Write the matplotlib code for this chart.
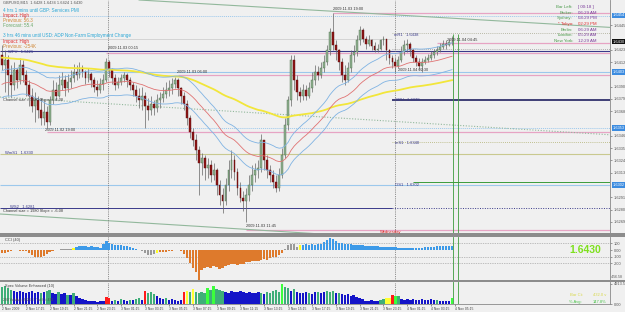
import numpy as np
import pandas as pd
import matplotlib
matplotlib.use("Agg")
import matplotlib.pyplot as plt
from matplotlib.patches import Rectangle

plt.rcParams["font.family"] = ["Liberation Sans", "DejaVu Sans"]

W, H = 625, 312

# ==========================
# Price data (GBPUSD M15, pips above 1.6200)
# ==========================
BASE = 1.6200
first_open_pips = 218

close_pips = [
    209, 214, 200, 191, 205, 196, 209, 200, 191, 182,
    173, 178, 169, 162, 167, 158, 178, 187, 182, 191,
    196, 189, 194, 198, 203, 200, 207, 203, 198, 201,
    196, 190, 187, 192, 196, 212, 205, 198, 191, 194,
    198, 200, 196, 191, 187, 182, 178, 182, 173, 169,
    174, 171, 178, 180, 183, 187, 189, 192, 196, 189,
    182, 174, 162, 149, 142, 133, 122, 126, 117, 120,
    111, 115, 102, 93, 88, 102, 115, 124, 114, 99,
    90, 88, 93, 102, 111, 115, 117, 142, 124, 115,
    111, 105, 99, 111, 129, 156, 178, 214, 196, 185,
    182, 187, 182, 189, 196, 203, 200, 207, 212, 223,
    239, 227, 223, 212, 200, 196, 207, 218, 221, 232,
    241, 233, 228, 232, 226, 223, 224, 232, 233, 223,
    216, 212, 208, 214, 221, 227, 228, 223, 216, 212,
    208, 212, 214, 216, 218, 221, 223, 225, 228, 227,
    230, 230,
]

high_pips = [
    227, 223, 218, 209, 212, 207, 216, 214, 205, 196,
    189, 185, 182, 180, 178, 173, 182, 196, 194, 200,
    203, 200, 201, 205, 210, 209, 212, 209, 205, 207,
    203, 199, 196, 198, 201, 216, 214, 207, 201, 199,
    201, 203, 202, 199, 194, 191, 189, 190, 185, 180,
    182, 178, 183, 185, 190, 194, 196, 198, 199, 198,
    190, 185, 178, 165, 153, 148, 137, 131, 129, 126,
    124, 122, 117, 106, 99, 108, 124, 133, 129, 117,
    105, 97, 99, 111, 120, 122, 124, 148, 142, 129,
    120, 115, 111, 117, 135, 162, 182, 218, 218, 200,
    190, 192, 191, 194, 203, 209, 208, 212, 218, 227,
    242, 256, 232, 224, 216, 209, 212, 223, 227, 236,
    244, 242, 235, 236, 233, 230, 228, 233, 235, 232,
    224, 218, 216, 217, 226, 232, 233, 230, 224, 218,
    216, 216, 217, 219, 222, 224, 226, 229, 232, 232,
    233, 235,
]

low_pips = [
    205, 185, 182, 181, 187, 189, 192, 194, 182, 173,
    167, 158, 162, 156, 156, 153, 156, 174, 178, 181,
    187, 182, 185, 189, 194, 196, 198, 199, 192, 194,
    190, 185, 182, 184, 187, 194, 199, 192, 187, 189,
    191, 194, 190, 187, 182, 176, 171, 169, 153, 160,
    165, 165, 167, 171, 176, 180, 182, 183, 189, 182,
    174, 169, 156, 144, 137, 124, 93, 111, 106, 108,
    105, 106, 93, 84, 77, 84, 97, 108, 106, 93,
    87, 79, 69, 88, 97, 105, 108, 114, 115, 108,
    105, 99, 96, 97, 108, 126, 151, 173, 187, 178,
    176, 178, 178, 180, 185, 191, 196, 198, 203, 209,
    218, 223, 214, 205, 194, 191, 194, 203, 212, 217,
    227, 230, 224, 226, 223, 221, 221, 223, 227, 214,
    210, 207, 203, 207, 212, 218, 221, 217, 212, 208,
    205, 203, 210, 212, 214, 216, 218, 221, 224, 224,
    226, 227,
]

# ==========================
# CCI (40) histogram values
# ==========================
cci_values = [
    -40, -50, -30,
    -10, -5, -5, -15, -15, -20,
    -50, -80, -100, -110, -105, -90, -60,
    -30, -15, -5, 0,
    10, 15, 20, 10, 25, 40,
    60, 55, 65, 50, 55, 45, 40,
    30, 90, 135,
    110, 90, 80, 75, 70, 60, 55, 45, 35, 20,
    5, -10, -45,
    -70, -75, -55, -40,
    -30, -35, -25, -20, -10,
    -3, -5, -10,
    -60, -120, -200, -280, -340, -456,
    -300, -280, -260, -270, -250, -265, -290, -280, -250, -230, -210, -220,
    -230, -220, -210, -190, -180, -170, -160, -165, -150, -140, -150,
    -120, -110, -100, -80, -40,
    20, 80, 90, 85, 40,
    70, 80, 90, 75, 85, 80, 90,
    95, 120, 150,
    185, 160,
    130, 110, 100, 95, 90, 85,
    80, 75, 70, 70, 65, 60, 60, 55, 55, 50, 50, 50, 45,
    40, 40, 35, 35, 30, 30, 35, 30, 30, 35,
    35, 40, 40, 45, 50, 55, 55,
    60, 60, 65, 60,
]
cci_dot_runs = [("g", 9), ("r", 7), ("g", 17), ("r", 14), ("g", 14),
                ("r", 35), ("g", 10), ("r", 12), ("g", 13), ("g", 21)]

# ==========================
# Volume
# ==========================
volumes = [
    4200, 4400, 3900, 3400,
    3200, 2900, 3200, 2900, 2700, 2900, 3200, 2700,
    2900, 2700, 2900, 3200,
    3400, 2700, 2500,
    2900, 2500, 2700, 2200,
    2200, 2700, 2000, 1500, 1200,
    1000, 700, 700, 700, 500, 700, 700,
    1700, 1500,
    750, 1000, 750, 1200, 1000, 750, 1000, 1000, 1200, 1500, 1000,
    3200,
    2700, 2900, 2500, 2000,
    1500, 1200, 1500, 1000, 1200, 1000,
    750, 1000, 2900,
    3200, 2900, 3700,
    2900, 2700, 2900, 2700, 3900, 3400,
    4400, 3700, 3400, 3200, 2900, 2700,
    3200, 2900, 2900, 3200, 2900, 2700, 2900, 2700, 2700, 2900,
    2700, 2500, 2900, 2700,
    3200, 3400, 2900, 4900, 4200,
    3900, 3200, 3700, 2900, 2700,
    2700, 2900, 2700, 2500,
    2900, 2900, 2700, 2900, 3200, 2900,
    3200, 2700, 2700, 2500, 2200, 2500,
    2000, 2200, 1700, 1500, 1200,
    750, 750, 1000, 750, 750, 1000,
    1200, 1500, 1500, 2200, 2000, 1900,
    1200, 1000, 1200, 1000, 1200, 1000, 1000, 1200, 1000, 1000, 1200, 1000,
    1000, 750, 750, 750,
    750, 1500,
]
volume_codes = ("GGGG" "BBBBBBBB" "BGBG" "GBB" "GBBG" "BGBBB" "BBBBBBB" "RR"
                "BGBGBBGBGGB" "R" "GGGB" "BBGBBB" "BBR" "YGY" "GGGGLG" "LGGGBB"
                "BBBBBBBBBB" "GBGG" "GGGLG" "GBGBB" "BBGB" "BGBBGG" "GBGBBB"
                "BBBBB" "BBBBBG" "GYYRLG" "BBBBBBBBBBBB" "GBBB" "BL")

time_labels = ["2 Nov 2009", "2 Nov 17:15", "2 Nov 19:15", "2 Nov 21:15",
               "2 Nov 23:15", "3 Nov 01:15", "3 Nov 03:15", "3 Nov 05:15",
               "3 Nov 07:15", "3 Nov 09:15", "3 Nov 11:15", "3 Nov 13:15",
               "3 Nov 15:15", "3 Nov 17:15", "3 Nov 19:15", "3 Nov 21:15",
               "3 Nov 23:15", "4 Nov 01:15", "4 Nov 03:15", "4 Nov 05:15"]

price_ticks = [1.6456, 1.6445, 1.6434, 1.6423, 1.6412, 1.6401, 1.6390,
               1.6379, 1.6368, 1.6357, 1.6346, 1.6335, 1.6324, 1.6313,
               1.6302, 1.6291, 1.6280, 1.6269]

# pivot / session levels
WPV = 1.6422
GPV = 1.6378
MR1 = 1.6438
MS1 = 1.6340
WMS1 = 1.6330
OS1 = 1.6302
WS2 = 1.6281

yellow_seed = 1.6416
red_seed = 1.6391

# ==========================
# Derived series
# ==========================
closes = BASE + np.array(close_pips) / 1e4
opens = BASE + np.array([first_open_pips] + close_pips[:-1]) / 1e4
highs = BASE + np.array(high_pips) / 1e4
lows = BASE + np.array(low_pips) / 1e4
highs = np.maximum(highs, np.maximum(opens, closes))
lows = np.minimum(lows, np.minimum(opens, closes))
bars = np.arange(len(closes))

yellow_ma = pd.Series([yellow_seed] + list(closes)).ewm(span=120, adjust=False).mean().values[1:]
red_ma = pd.Series([red_seed] + list(closes)).ewm(span=34, adjust=False).mean().values[1:]

XMIN, XMAX = -0.67, 204.0
PMIN, PMAX = 1.62590, 1.64675

BG = "#f0f0f0"
PINK = "#e7a4c4"
LBLUE = "#9cc8ec"
NAVY = "#3a3a8a"
OLIVE = "#c9c98f"

fig = plt.figure(figsize=(W / 100, H / 100), dpi=100)
fig.patch.set_facecolor(BG)

main = fig.add_axes([0, 1 - 233 / H, 610 / W, 233 / H])
cci = fig.add_axes([0, 1 - 280 / H, 610 / W, 43 / H])
vol = fig.add_axes([0, 1 - 304 / H, 610 / W, 22 / H])

for ax in (main, cci, vol):
    ax.set_facecolor(BG)
    ax.set_xlim(XMIN, XMAX)
    for side in ("top", "left", "bottom"):
        ax.spines[side].set_visible(False)
    ax.spines["right"].set_color("#888888")
    ax.spines["right"].set_linewidth(0.6)
    ax.yaxis.tick_right()
    ax.tick_params(axis="y", labelsize=2.8, colors="#555555", length=1.5,
                   width=0.4, pad=1)
    ax.set_xticks([])

# separators between panes
for y0, y1 in [(233, 237), (280, 282)]:
    fig.add_artist(Rectangle((0, 1 - y1 / H), 1, (y1 - y0) / H,
                             transform=fig.transFigure, color="#8c8c8c", lw=0))

# ==========================
# Main price pane
# ==========================
main.set_ylim(PMIN, PMAX)


def level(price, start, color, ls="-", lw=0.6, end=XMAX):
    main.hlines(price, start, end, colors=color, linestyles=ls, linewidth=lw,
                zorder=1)


level(1.6456, 111, PINK, lw=0.9)
level(1.6453, XMIN, LBLUE, ls=(0, (1, 1)), lw=0.7)
level(MR1, 131, "#a8a890", ls=(0, (1, 1.5)))
level(1.6433, XMIN, "#cfcfcf", end=131)
level(1.6429, 146, PINK, lw=0.9)
level(1.6424, 131, "#999999", ls=(0, (1, 1.5)))
level(WPV, XMIN, NAVY, lw=0.8)
level(1.6420, 35, PINK, lw=0.9)
level(1.6403, XMIN, LBLUE, lw=0.8)
level(1.6400, 59, PINK, lw=0.9)
level(GPV, 131, "#202060", lw=1.2)
level(1.6353, XMIN, LBLUE, ls=(0, (1, 1)), lw=0.7)
level(1.6349, 15, PINK, lw=0.9)
level(MS1, 131, "#b0b070", ls=(0, (1, 1.5)))
level(WMS1, XMIN, OLIVE, lw=0.8)
level(1.6305, 138, "#3c9c3c", lw=0.7)
level(OS1, XMIN, LBLUE, lw=0.8)
level(WS2, XMIN, NAVY, lw=0.7, end=131)
level(WS2, 131, NAVY, ls=(0, (1, 1.5)), lw=0.7)
level(1.6262, 82, PINK, lw=0.9)

# regression channel
channel_top = [(46, 1.64675), (204, 1.6443)]
channel_mid = [(-0.67, 1.63807), (204, 1.63469)]
channel_bot = [(-0.67, 1.62760), (204, 1.62420)]
for pts, ls in [(channel_top, "-"), (channel_mid, (0, (1, 1.5))), (channel_bot, "-")]:
    main.plot([p[0] for p in pts], [p[1] for p in pts], color="#92b89c",
              lw=0.8, ls=ls, zorder=1)

# day separators and markers
day_breaks = [35.5, 132]
for ax in (main, cci, vol):
    for b in day_breaks:
        ax.axvline(b, color="#707070", lw=0.6, ls=(0, (1, 1.2)), zorder=1)
for b in [151.3, 153.0]:
    main.vlines(b, PMIN, 1.6437, colors="#3c9c3c", lw=0.6, zorder=4)
    cci.axvline(b, color="#3c9c3c", lw=0.6, zorder=4)
    vol.axvline(b, color="#3c9c3c", lw=0.6, zorder=4)

# moving averages and envelope
main.plot(bars, yellow_ma, color="#f2e63a", lw=1.3, zorder=3)
main.plot(bars, red_ma, color="#e07272", lw=0.6, zorder=3)
main.plot(bars, red_ma + 0.0012, color="#7fb3e3", lw=0.6, zorder=3)
main.plot(bars, red_ma - 0.0012, color="#7fb3e3", lw=0.6, zorder=3)

# candles
up = closes >= opens
main.vlines(bars, lows, highs, colors="#666666", lw=0.5, zorder=2)
main.bar(bars[up], np.maximum((closes - opens)[up], 0.00003), bottom=opens[up],
         width=0.62, color="#8fb08f", edgecolor="#4f6f4f", lw=0.3, zorder=2.5)
main.bar(bars[~up], (closes - opens)[~up], bottom=opens[~up], width=0.62,
         color="#8e1616", edgecolor="#5a0a0a", lw=0.3, zorder=2.5)

axis_boxes = [(1.6454, "#3c8ce0"), (1.6430, "#111111"), (1.6403, "#3c8ce0"),
              (1.6353, "#3c8ce0"), (1.6302, "#3c8ce0")]
shown_ticks = [p for p in price_ticks
               if min(abs(p - b[0]) for b in axis_boxes) > 0.0005]
main.set_yticks(shown_ticks)
main.set_yticklabels([f"{p:.4f}" for p in shown_ticks])

for price, fc in axis_boxes:
    main.text(1.004, price, f"{price:.4f}", transform=main.get_yaxis_transform(),
              fontsize=2.8, color="white", va="center", ha="left", clip_on=False,
              bbox=dict(boxstyle="square,pad=0.15", fc=fc, ec="none"), zorder=6)

# ==========================
# CCI pane
# ==========================
cci.set_ylim(-456.58, 198)
bar_colors = []
sign_prev, count = -1, 10
for v in cci_values:
    s = 1 if v >= 0 else -1
    if s == sign_prev:
        count += 1
    else:
        sign_prev, count = s, 1
    if count < 6:
        bar_colors.append("#9a9a9a")
    elif count == 6:
        bar_colors.append("#ffff22")
    else:
        bar_colors.append("#3d9ae8" if s > 0 else "#de7a2c")
cci.bar(bars, cci_values, width=0.8, color=bar_colors, lw=0, zorder=2)
for lvl in (100, -100, -200):
    cci.axhline(lvl, color="#8a8a8a", lw=0.5, ls=(0, (1, 1.5)), zorder=1)
dot_colors = []
for c, n in cci_dot_runs:
    dot_colors += [("#22cc22" if c == "g" else "#dd2222")] * n
cci.scatter(bars, np.zeros(len(bars)), c=dot_colors, marker="s", s=0.5,
            lw=0, zorder=3)
cci.set_yticks([100, 0, -100, -200])
cci.set_yticklabels(["100", "0.00", "-100", "-200"])
cci.text(1.002, -440, "-456.58", transform=cci.get_yaxis_transform(),
         fontsize=2.5, color="#555555", va="bottom", ha="left", clip_on=False)

# ==========================
# Volume pane
# ==========================
code_colors = {"B": "#1414c8", "G": "#3fae78", "L": "#3cff3c",
               "R": "#ff1a1a", "Y": "#ffff33"}
vol.set_ylim(0, 5400)
vol.bar(bars, volumes, width=0.8, color=[code_colors[c] for c in volume_codes],
        lw=0, zorder=2)
vol.set_yticks([0, 4913.5])
vol.set_yticklabels(["0.00", "4913.5"])
vol.spines["bottom"].set_visible(True)
vol.spines["bottom"].set_color("#888888")
vol.spines["bottom"].set_linewidth(0.6)
vol.set_xticks(np.arange(0, 153, 8))
vol.set_xticklabels(time_labels, ha="left")
vol.tick_params(axis="x", labelsize=2.4, colors="#444444", length=1.5,
                width=0.4, pad=0.8)

# ==========================
# Texts
# ==========================
def ptext(x, y, s, color="#333333", size=3.0, ha="left", **kw):
    fig.text(x / W, 1 - y / H, s, color=color, fontsize=size, ha=ha,
             va="center", **kw)


ptext(3, 3, "GBPUSD,M15  1.6428 1.6434 1.6424 1.6430", "#555555", 2.8)
ptext(3, 11, "4 hrs 1 mins until GBP: Services PMI", "#2aa7d6", 3.3)
ptext(3, 15.5, "Impact: High", "#e03030", 3.3)
ptext(3, 20.5, "Previous: 56.3", "#d08a3a", 3.3)
ptext(3, 25.5, "Forecast: 55.4", "#6aa86a", 3.3)
ptext(3, 36, "3 hrs 46 mins until USD: ADP Non-Farm Employment Change", "#2aa7d6", 3.3)
ptext(3, 41, "Impact: High", "#e03030", 3.3)
ptext(3, 46, "Previous: -254K", "#d08a3a", 3.3)
ptext(8, 52, "WPV   1.6421", NAVY, 3.0)
ptext(108, 48, "2009.11.03 00:15", "#333333", 2.8)
ptext(177, 72, "2009.11.03 06:00", "#333333", 2.8)
ptext(3, 100, "Channel size = 1980 Slope = -6.08", "#333333", 2.8)
ptext(45, 130, "2009.11.02 19:00", "#333333", 2.8)
ptext(5, 153, "WmS1   1.6330", NAVY, 3.0)
ptext(10, 207, "WS2   1.6281", NAVY, 3.0)
ptext(3, 211, "Channel size = 1980 Slope = -6.08", "#333333", 2.8)
ptext(246, 226, "2009.11.03 11:45", "#333333", 2.8)
ptext(333, 9, "2009.11.03 19:00", "#333333", 2.8)
ptext(394, 35, "mR1   1.6438", NAVY, 3.0)
ptext(398, 70, "2009.11.04 02:30", "#333333", 2.8)
ptext(447, 40, "2009.11.04 04:45", "#333333", 2.8)
ptext(395, 100, "GPV   1.6378", NAVY, 3.0)
ptext(395, 143, "mS1   1.6340", NAVY, 3.0)
ptext(395, 185, "OS1   1.6302", NAVY, 3.0)
ptext(380, 232, "Wednesday", "#dd2222", 3.0)

clock_rows = [("Bar Left:", "[ 00:18 ]"), ("Broker:", "06:29 AM"),
              ("Sydney:", "04:29 PM"), ("* Tokyo:", "02:29 PM"),
              ("Berlin:", "06:29 AM"), ("London:", "05:29 AM"),
              ("New York:", "12:29 AM")]
for k, (name, t) in enumerate(clock_rows):
    y = 7 + k * 5.7
    red = "Tokyo" in name
    ptext(573, y, name, "#e03030" if red else "#4a9a4a", 3.2, ha="right")
    ptext(578, y, t, "#e03030" if red else "#7a3a9a", 3.2)

ptext(5, 240, "CCI (40)", "#404040", 2.8)
ptext(601, 250, "1.6430", "#7ee01e", 7.5, ha="right", fontweight="bold")
ptext(5, 286, "Spec Volume Enhanced (10)", "#404040", 2.8)
ptext(3, 300, "200 Vol Avg: 2924.3   Vol Ct: 432", "#505050", 2.4)
ptext(570, 295, "Bar Ct:", "#d8d84a", 3.0)
ptext(593, 295, "432.0 v", "#d8d84a", 3.0)
ptext(569, 302, "% Avg:", "#4ac44a", 3.0)
ptext(593, 302, "147.8%", "#4ac44a", 3.0)

fig.savefig("out.png", dpi=100, facecolor=fig.get_facecolor())
